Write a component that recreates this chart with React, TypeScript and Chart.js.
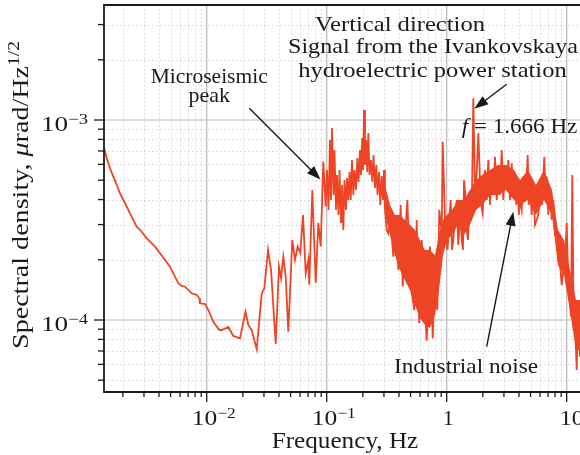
import React, { useEffect, useRef } from "react";
import { Chart, registerables } from "chart.js";

Chart.register(...registerables);

// ---- data (frequency in Hz, spectral density in rad/Hz^1/2) ----
const frequencyHz = [
  0.001395, 0.001468, 0.001564, 0.001666, 0.001778, 0.001894, 0.002018, 0.002154, 0.002371, 0.00261,
  0.002873, 0.003162, 0.003369, 0.003708, 0.004081, 0.004493, 0.004945, 0.005268, 0.005799, 0.00619,
  0.006595, 0.007025, 0.007499, 0.008254, 0.008677, 0.00879, 0.00968, 0.01031, 0.01135, 0.01274,
  0.01334, 0.01514, 0.01666, 0.01894, 0.02105, 0.02222,
  0.02371, 0.0261, 0.02873, 0.0302, 0.03243, 0.03435, 0.03758, 0.04003, 0.0416, 0.04347,
  0.04552, 0.04786, 0.05167, 0.05442, 0.05731, 0.06026, 0.06346, 0.06683, 0.07025, 0.07161,
  0.07586, 0.08096, 0.08511, 0.08913, 0.09368, 0.0981, 0.1006, 0.1035, 0.1065, 0.1086,
  0.1107, 0.114, 0.1161, 0.1195, 0.1218, 0.1254, 0.1278, 0.1316, 0.1341, 0.1375,
  0.1407, 0.1448, 0.1476, 0.1514, 0.1549, 0.1585, 0.1625, 0.1666, 0.1704, 0.1754,
  0.1799, 0.1841, 0.1894, 0.1931, 0.1976, 0.2007, 0.2046, 0.2085, 0.2126, 0.2175,
  0.2222, 0.2273, 0.2339, 0.2399, 0.2455, 0.2527, 0.2591, 0.2651, 0.2729, 0.2797,
  0.2873, 0.2945, 0.3003, 0.306, 0.3162, 0.3262, 0.3369, 0.3589, 0.378, 0.3951,
  0.4137, 0.4299, 0.4493, 0.4696, 0.4944, 0.5168, 0.537, 0.5623, 0.5908, 0.619,
  0.6469, 0.6813, 0.7257, 0.7647, 0.799, 0.835, 0.8676, 0.9085, 0.9261, 0.9679,
  1.0155, 1.031, 1.055, 1.08, 1.107, 1.135, 1.173, 1.212, 1.249, 1.291,
  1.334, 1.367, 1.394, 1.429, 1.468, 1.505, 1.543, 1.579, 1.616, 1.666,
  1.721, 1.778, 1.834, 1.894, 1.942, 1.995, 2.085, 2.154, 2.222, 2.296,
  2.371, 2.445, 2.527, 2.61, 2.692, 2.781, 2.873, 2.963, 3.061, 3.162,
  3.262, 3.369, 3.481, 3.589, 3.709, 3.802, 3.906, 3.99, 4.081, 4.217,
  4.348, 4.537, 4.732, 4.833, 4.945, 5.109, 5.27, 5.443, 5.623, 5.799,
  5.99, 6.227, 6.507, 6.659, 6.813, 7.025, 7.26, 7.499, 7.733, 7.99,
  8.254, 8.511, 8.796, 9.085, 9.369, 9.679, 10.0, 10.31, 10.86, 11.13,
  11.44, 11.73, 12.12, 12.5, 12.91,
];
const spectralDensity = [
  7.26e-4, 6.43e-4, 5.73e-4, 5.21e-4, 4.73e-4, 4.3e-4, 3.98e-4, 3.685e-4, 3.28e-4, 2.927e-4,
  2.763e-4, 2.561e-4, 2.462e-4, 2.325e-4, 2.156e-4, 1.995e-4, 1.847e-4, 1.712e-4, 1.526e-4, 1.479e-4,
  1.467e-4, 1.413e-4, 1.36e-4, 1.334e-4, 1.284e-4, 1.212e-4, 1.202e-4, 1.122e-4, 9.8e-5, 8.91e-5,
  8.91e-5, 9.23e-5, 8.32e-5, 8.1e-5, 1.1e-4, 9.44e-5,
  8.91e-5, 7.14e-5, 1.36e-4, 1.44e-4, 2.24e-4, 1.78e-4, 7.59e-5, 1.85e-4, 1.62e-4, 2.07e-4,
  1.65e-4, 8.74e-5, 2.51e-4, 2.0e-4, 2.33e-4, 2.16e-4, 3.35e-4, 1.71e-4, 2.0e-4, 1.5e-4,
  4.47e-4, 1.53e-4, 3.06e-4, 2.33e-4, 6.19e-4, 3.69e-4, 5.62e-4, 3.55e-4, 7.94e-4, 3.98e-4,
  9.12e-4, 4.22e-4, 7.08e-4, 3.55e-4, 5.31e-4, 3.35e-4, 5.62e-4, 3.09e-4, 4.73e-4, 2.82e-4,
  5.01e-4, 3.55e-4, 5.13e-4, 3.98e-4, 5.5e-4, 3.98e-4, 6.31e-4, 4.22e-4, 5.62e-4, 4.47e-4,
  6.46e-4, 4.9e-4, 7.08e-4, 5.31e-4, 8.13e-4, 5.62e-4, 1.122e-3, 5.96e-4, 7.94e-4, 5.5e-4,
  8.61e-4, 5.31e-4, 6.31e-4, 4.9e-4, 6.68e-4, 4.57e-4, 5.96e-4, 4.22e-4, 5.5e-4, 3.76e-4,
  5.25e-4, 3.98e-4, 5.62e-4, 3.55e-4, 2.82e-4, 2.71e-4, 3.42e-4, 2.07e-4, 3.28e-4, 1.78e-4,
  3.76e-4, 1.47e-4, 2.61e-4, 3.98e-4, 1.65e-4, 1.31e-4, 1.12e-4, 3.16e-4, 9.63e-5, 2.51e-4,
  1.41e-4, 7.88e-5, 2.33e-4, 8.1e-5, 1.65e-4, 1.12e-4, 3.55e-4, 2.71e-4, 7.79e-4, 3.16e-4,
  2.24e-4, 2.61e-4, 3.35e-4, 3.98e-4, 2.24e-4, 2.51e-4, 3.35e-4, 3.98e-4, 2.37e-4, 3.42e-4,
  2.51e-4, 2.24e-4, 5.01e-4, 4.22e-4, 2.82e-4, 2.51e-4, 3.98e-4, 4.47e-4, 3.28e-4, 1.284e-3,
  4.47e-4, 5.41e-4, 8.61e-4, 5.01e-4, 3.76e-4, 3.42e-4, 5.62e-4, 3.98e-4, 6.31e-4, 3.76e-4,
  5.62e-4, 4.22e-4, 6.55e-4, 3.98e-4, 5.21e-4, 4.22e-4, 7.08e-4, 3.98e-4, 5.84e-4, 4.47e-4,
  6.31e-4, 3.98e-4, 6.07e-4, 4.22e-4, 5.41e-4, 3.76e-4, 4.83e-4, 3.35e-4, 3.98e-4, 3.55e-4,
  5.21e-4, 3.98e-4, 6.68e-4, 3.76e-4, 4.83e-4, 3.35e-4, 4.47e-4, 2.99e-4, 3.16e-4, 3.35e-4,
  4.47e-4, 3.76e-4, 6.55e-4, 3.98e-4, 5.21e-4, 3.35e-4, 4.64e-4, 3.16e-4, 3.98e-4, 2.66e-4,
  2.61e-4, 1.995e-4, 1.92e-4, 1.496e-4, 1.78e-4, 1.995e-4, 3.05e-4, 1.53e-4, 1.04e-4, 5.31e-4,
  8.91e-5, 9.63e-5, 5.62e-5, 1.26e-4, 6.55e-5,
];
// dense core of the noisy part of the spectrum (upper and lower edges)
const bandFrequencyHz = [
  0.306, 0.3369, 0.3708, 0.4081, 0.4493, 0.4944, 0.5443, 0.599, 0.6595, 0.7257,
  0.799, 0.8627, 0.9315, 1.006, 1.107, 1.242, 1.394, 1.564, 1.755, 1.969,
  2.296, 2.676, 3.12, 3.638, 4.081, 4.76, 5.548, 6.47, 7.543, 8.463,
  9.495, 10.65, 11.95, 12.91,
];
const bandUpper = [
  4.73e-4, 3.76e-4, 3.35e-4, 3.35e-4, 3.16e-4, 2.99e-4, 2.82e-4, 2.51e-4, 2.24e-4, 2.24e-4,
  2.11e-4, 2.66e-4, 3.16e-4, 3.35e-4, 3.55e-4, 3.98e-4, 3.98e-4, 4.47e-4, 5.01e-4, 5.31e-4,
  5.62e-4, 5.96e-4, 5.96e-4, 5.62e-4, 5.01e-4, 5.62e-4, 4.73e-4, 5.62e-4, 4.47e-4, 2.82e-4,
  2.51e-4, 1.78e-4, 1.26e-4, 1.26e-4,
];
const bandLower = [
  3.35e-4, 2.66e-4, 2.11e-4, 1.78e-4, 1.58e-4, 1.41e-4, 1.19e-4, 1.02e-4, 9.44e-5, 9.12e-5,
  1.06e-4, 1.41e-4, 2.11e-4, 2.51e-4, 2.66e-4, 2.99e-4, 2.66e-4, 2.99e-4, 3.55e-4, 3.76e-4,
  4.22e-4, 4.22e-4, 4.47e-4, 3.98e-4, 3.76e-4, 3.98e-4, 3.35e-4, 3.98e-4, 3.35e-4, 1.88e-4,
  1.68e-4, 1.12e-4, 7.08e-5, 7.08e-5,
];

// axis decades and labels (mantissa, exponent)
const xMajorTicks = [0.01, 0.1, 1, 10];
const xMajorLabels = [["10", "\u22122"], ["10", "\u22121"], ["1", ""], ["10", ""]];
const yMajorTicks = [1e-3, 1e-4];
const yMajorLabels = [["10", "\u22123"], ["10", "\u22124"]];

const X_MIN = 0.001393;
const X_MAX = 12.91;
const Y_MIN = 4.365e-5;
const Y_MAX = 3.758e-3;

// annotation arrows in data coordinates: [tailX, tailY, headX, headY]
const microseismicArrow = [0.02265, 1.144e-3, 0.0888, 5.04e-4];
const stationArrow = [3.162, 1.509e-3, 1.698, 1.139e-3];
const industrialArrow = [2.154, 7.35e-5, 3.589, 3.48e-4];

const SERIF = '"Liberation Serif", "Times New Roman", serif';
const RED = "#ee4426";
const INK = "#1a1a1a";

type Run = { t: string; font: string; dy?: number };

function minorTicks(min: number, max: number) {
  const out: number[] = [];
  for (let e = Math.floor(Math.log10(min)); e <= Math.ceil(Math.log10(max)); e++) {
    for (let m = 2; m <= 9; m++) {
      const v = m * Math.pow(10, e);
      if (v > min && v < max) out.push(v);
    }
  }
  return out;
}

function runsWidth(ctx: CanvasRenderingContext2D, runs: Run[]) {
  let w = 0;
  for (const r of runs) {
    ctx.font = r.font;
    w += ctx.measureText(r.t).width;
  }
  return w;
}

function drawRuns(
  ctx: CanvasRenderingContext2D,
  runs: Run[],
  x: number,
  y: number,
  targetW: number | null,
  align: "left" | "center" = "left",
  rotate = 0
) {
  const w = runsWidth(ctx, runs);
  const s = targetW ? targetW / w : 1;
  ctx.save();
  ctx.translate(x, y);
  if (rotate) ctx.rotate(rotate);
  ctx.scale(s, 1);
  ctx.textAlign = "left";
  ctx.textBaseline = "alphabetic";
  ctx.fillStyle = INK;
  let cx = align === "center" ? -w / 2 : 0;
  for (const r of runs) {
    ctx.font = r.font;
    ctx.fillText(r.t, cx, r.dy || 0);
    cx += ctx.measureText(r.t).width;
  }
  ctx.restore();
}

function drawArrow(ctx: CanvasRenderingContext2D, x0: number, y0: number, x1: number, y1: number) {
  const ang = Math.atan2(y1 - y0, x1 - x0);
  const L = 14;
  const W = 5;
  const c = Math.cos(ang);
  const s = Math.sin(ang);
  const bx = x1 - L * c;
  const by = y1 - L * s;
  ctx.strokeStyle = INK;
  ctx.fillStyle = INK;
  ctx.lineWidth = 1.4;
  ctx.beginPath();
  ctx.moveTo(x0, y0);
  ctx.lineTo(bx + 2 * c, by + 2 * s);
  ctx.stroke();
  ctx.beginPath();
  ctx.moveTo(x1, y1);
  ctx.lineTo(bx - W * s, by + W * c);
  ctx.lineTo(bx + W * s, by - W * c);
  ctx.closePath();
  ctx.fill();
}

const decorPlugin = {
  id: "decor",
  beforeDatasetsDraw(chart: any) {
    const { ctx, chartArea: a, scales } = chart;
    const xs = scales.x;
    const ys = scales.y;
    ctx.save();
    ctx.lineWidth = 1;
    ctx.strokeStyle = "rgba(0,0,0,0.17)";
    ctx.setLineDash([1.5, 2.5]);
    for (const v of minorTicks(X_MIN, X_MAX)) {
      const px = Math.round(xs.getPixelForValue(v)) + 0.5;
      ctx.beginPath();
      ctx.moveTo(px, a.top);
      ctx.lineTo(px, a.bottom);
      ctx.stroke();
    }
    for (const v of minorTicks(Y_MIN, Y_MAX)) {
      const py = Math.round(ys.getPixelForValue(v)) + 0.5;
      ctx.beginPath();
      ctx.moveTo(a.left, py);
      ctx.lineTo(a.right, py);
      ctx.stroke();
    }
    ctx.setLineDash([]);
    ctx.strokeStyle = "#b8b8b8";
    ctx.lineWidth = 1.2;
    for (const v of xMajorTicks) {
      const px = xs.getPixelForValue(v);
      ctx.beginPath();
      ctx.moveTo(px, a.top);
      ctx.lineTo(px, a.bottom);
      ctx.stroke();
    }
    for (const v of yMajorTicks) {
      const py = ys.getPixelForValue(v);
      ctx.beginPath();
      ctx.moveTo(a.left, py);
      ctx.lineTo(a.right, py);
      ctx.stroke();
    }
    ctx.restore();
  },
  afterDatasetsDraw(chart: any) {
    const { ctx, chartArea: a, scales } = chart;
    const xs = scales.x;
    const ys = scales.y;
    ctx.save();
    // spines
    ctx.strokeStyle = INK;
    ctx.lineWidth = 1.8;
    ctx.beginPath();
    ctx.moveTo(a.right + 2, a.top);
    ctx.lineTo(a.left, a.top);
    ctx.lineTo(a.left, a.bottom);
    ctx.lineTo(a.right + 2, a.bottom);
    ctx.stroke();
    // ticks
    ctx.lineWidth = 1.3;
    for (const v of xMajorTicks) {
      const px = xs.getPixelForValue(v);
      ctx.beginPath();
      ctx.moveTo(px, a.bottom);
      ctx.lineTo(px, a.bottom + 10);
      ctx.stroke();
    }
    for (const v of minorTicks(X_MIN, X_MAX)) {
      const px = xs.getPixelForValue(v);
      ctx.beginPath();
      ctx.moveTo(px, a.bottom);
      ctx.lineTo(px, a.bottom + 5);
      ctx.stroke();
    }
    for (const v of yMajorTicks) {
      const py = ys.getPixelForValue(v);
      ctx.beginPath();
      ctx.moveTo(a.left, py);
      ctx.lineTo(a.left - 10, py);
      ctx.stroke();
    }
    for (const v of minorTicks(Y_MIN, Y_MAX)) {
      const py = ys.getPixelForValue(v);
      ctx.beginPath();
      ctx.moveTo(a.left, py);
      ctx.lineTo(a.left - 6, py);
      ctx.stroke();
    }
    // tick labels
    const big = `22px ${SERIF}`;
    const sup = `15px ${SERIF}`;
    xMajorTicks.forEach((v, i) => {
      const px = xs.getPixelForValue(v);
      const [m, e] = xMajorLabels[i];
      if (e) {
        drawRuns(ctx, [{ t: m, font: big }, { t: e, font: sup, dy: -7 }], px - 15, a.bottom + 33, 44);
      } else if (m === "1") {
        drawRuns(ctx, [{ t: m, font: big }], px + 1.5, a.bottom + 33, null, "center");
      } else {
        drawRuns(ctx, [{ t: m, font: big }], px - 7, a.bottom + 33, 24);
      }
    });
    yMajorTicks.forEach((v, i) => {
      const py = ys.getPixelForValue(v);
      const [m, e] = yMajorLabels[i];
      drawRuns(ctx, [{ t: m, font: big }, { t: e, font: sup, dy: -7 }], a.left - 63, py + 11.5, 47);
    });
    // axis titles
    drawRuns(ctx, [{ t: "Frequency, Hz", font: `23px ${SERIF}` }], 271.7, 448, 146.6);
    drawRuns(
      ctx,
      [
        { t: "Spectral density, ", font: `23px ${SERIF}` },
        { t: "\u03bc", font: `italic 23px ${SERIF}` },
        { t: "rad/Hz", font: `23px ${SERIF}` },
        { t: "1/2", font: `16px ${SERIF}`, dy: -9 },
      ],
      28,
      349,
      308,
      "left",
      -Math.PI / 2
    );
    // annotations
    const ann = `22px ${SERIF}`;
    drawRuns(ctx, [{ t: "Microseismic", font: ann }], 150.7, 82.7, 117);
    drawRuns(ctx, [{ t: "peak", font: ann }], 209.3, 102, 41.7, "center");
    drawRuns(ctx, [{ t: "Vertical direction", font: ann }], 315, 30.5, 170);
    drawRuns(ctx, [{ t: "Signal from the Ivankovskaya", font: ann }], 288, 53.3, 290);
    drawRuns(ctx, [{ t: "hydroelectric power station", font: ann }], 298.3, 77.3, 268.4);
    drawRuns(
      ctx,
      [
        { t: "f", font: `italic 22px ${SERIF}` },
        { t: " = 1.666 Hz", font: ann },
      ],
      461.7,
      133,
      115.6
    );
    drawRuns(ctx, [{ t: "Industrial noise", font: ann }], 394, 372.7, 144);
    for (const arr of [microseismicArrow, stationArrow, industrialArrow]) {
      drawArrow(
        ctx,
        xs.getPixelForValue(arr[0]),
        ys.getPixelForValue(arr[1]),
        xs.getPixelForValue(arr[2]),
        ys.getPixelForValue(arr[3])
      );
    }
    ctx.restore();
  },
};

export default function App() {
  const ref = useRef<HTMLCanvasElement | null>(null);
  useEffect(() => {
    if (!ref.current) return;
    const n = Math.min(frequencyHz.length, spectralDensity.length);
    const chart = new Chart(ref.current, {
      type: "line",
      data: {
        datasets: [
          {
            data: bandFrequencyHz.map((f, i) => ({ x: f, y: bandUpper[i] })),
            borderWidth: 0,
            pointRadius: 0,
            fill: false,
            borderColor: RED,
            tension: 0,
          },
          {
            data: bandFrequencyHz.map((f, i) => ({ x: f, y: bandLower[i] })),
            borderWidth: 0,
            pointRadius: 0,
            fill: "-1",
            backgroundColor: RED,
            borderColor: RED,
            tension: 0,
          },
          {
            data: frequencyHz.slice(0, n).map((f, i) => ({ x: f, y: spectralDensity[i] })),
            borderColor: RED,
            borderWidth: 1.8,
            pointRadius: 0,
            fill: false,
            tension: 0,
          },
        ],
      } as any,
      options: {
        animation: false,
        responsive: false,
        maintainAspectRatio: false,
        events: [],
        layout: { padding: { left: 104, top: 5, right: 0, bottom: 63 } },
        plugins: { legend: { display: false }, tooltip: { enabled: false } },
        scales: {
          x: { type: "logarithmic", min: X_MIN, max: X_MAX, display: false },
          y: { type: "logarithmic", min: Y_MIN, max: Y_MAX, display: false },
        },
      } as any,
      plugins: [decorPlugin as any],
    });
    return () => chart.destroy();
  }, []);
  return (
    <div
      style={{
        position: "fixed",
        left: 0,
        top: 0,
        width: 580,
        height: 455,
        overflow: "hidden",
        background: "#fff",
      }}
    >
      <canvas ref={ref} width={580} height={455} style={{ width: 580, height: 455, display: "block" }} />
    </div>
  );
}
